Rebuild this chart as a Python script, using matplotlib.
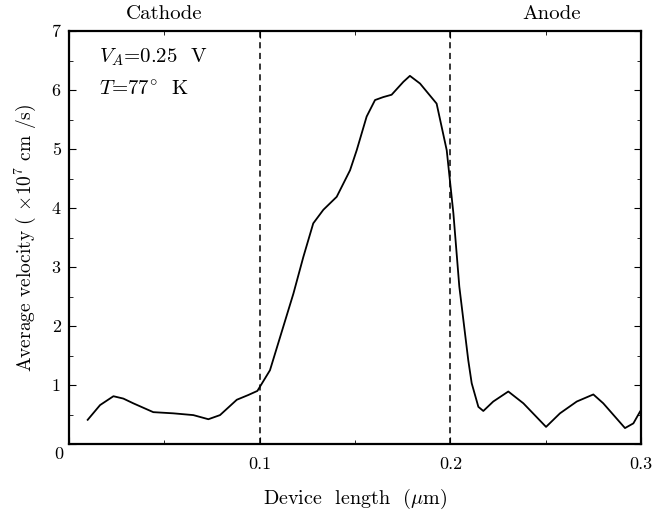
import numpy as np
import matplotlib
matplotlib.use("Agg")
import matplotlib.pyplot as plt
from matplotlib.ticker import MultipleLocator, FixedLocator

plt.rcParams['font.family'] = ['cmr10', 'DejaVu Serif']
plt.rcParams['mathtext.fontset'] = 'cm'
plt.rcParams['axes.formatter.use_mathtext'] = True

# Data
x_pos = [0.0098, 0.0163, 0.0233, 0.0285, 0.0337, 0.0442, 0.0547, 0.0652, 0.0731, 0.0792,
         0.0880, 0.0940, 0.0988, 0.1054, 0.1124, 0.1177, 0.1229, 0.1281, 0.1334,
         0.1404, 0.1474, 0.1509, 0.1561, 0.1605, 0.1648, 0.1692, 0.1754, 0.1788,
         0.1841, 0.1928, 0.1981, 0.2016, 0.2047, 0.2094, 0.2112, 0.2147, 0.2173,
         0.2225, 0.2304, 0.2383, 0.2502, 0.2575, 0.2663, 0.2750, 0.2802, 0.2916,
         0.2960, 0.2995]
velocity = [0.41, 0.66, 0.81, 0.77, 0.69, 0.54, 0.52, 0.49, 0.42, 0.49,
            0.75, 0.83, 0.90, 1.25, 1.99, 2.55, 3.17, 3.74, 3.97,
            4.19, 4.64, 4.98, 5.55, 5.83, 5.88, 5.92, 6.14, 6.24,
            6.11, 5.77, 4.98, 3.91, 2.67, 1.42, 1.03, 0.63, 0.56,
            0.72, 0.89, 0.69, 0.29, 0.52, 0.72, 0.84, 0.69, 0.27,
            0.35, 0.55]
boundaries = [0.1, 0.2]
x_tick_vals = [0.1, 0.2, 0.3]
x_tick_labels = ["0.1", "0.2", "0.3"]
y_tick_vals = [1, 2, 3, 4, 5, 6, 7]
y_tick_labels = ["1", "2", "3", "4", "5", "6", "7"]

fig = plt.figure(figsize=(6.59, 5.11), dpi=100)
ax = fig.add_axes([0.1047, 0.1311, 0.8680, 0.8082])

ax.plot(x_pos, velocity, color='black', lw=1.3)
for b in boundaries:
    ax.plot([b, b], [0, 7], color='black', lw=1.1, ls=(0, (4, 3)))

ax.set_xlim(0, 0.3)
ax.set_ylim(0, 7)
ax.xaxis.set_major_locator(FixedLocator([0.0] + x_tick_vals))
ax.set_xticklabels([""] + x_tick_labels)
ax.xaxis.set_minor_locator(MultipleLocator(0.05))
ax.yaxis.set_major_locator(FixedLocator([0] + y_tick_vals))
ax.set_yticklabels([""] + y_tick_labels)
ax.yaxis.set_minor_locator(MultipleLocator(0.5))
ax.tick_params(which='both', direction='in', top=True, right=True, labelsize=13)
ax.tick_params(which='major', length=5, width=0.8)
ax.tick_params(which='minor', length=3, width=0.6)
ax.tick_params(axis='x', pad=9)
ax.tick_params(axis='y', pad=6)
for s in ax.spines.values():
    s.set_linewidth(1.6)

ax.text(-0.0052, -0.17, "0", fontsize=13, ha='center', va='center', transform=ax.transData)

ax.set_xlabel(r"Device  length  ($\mu$m)", fontsize=14.5, labelpad=11)
ax.set_ylabel(r"Average velocity ( $\times 10^7$ cm /s)", fontsize=14, labelpad=10)

ax.text(0.05, 1.042, "Cathode", fontsize=15, ha='center', va='center',
        transform=ax.get_xaxis_transform())
ax.text(0.253, 1.042, "Anode", fontsize=15, ha='center', va='center',
        transform=ax.get_xaxis_transform())
ax.text(0.0155, 6.55, r"$V_A$=0.25  V", fontsize=15, ha='left', va='center')
ax.text(0.0155, 6.0, r"$T$=77$^{\circ}$  K", fontsize=15, ha='left', va='center')

fig.savefig("out.png", dpi=100)
